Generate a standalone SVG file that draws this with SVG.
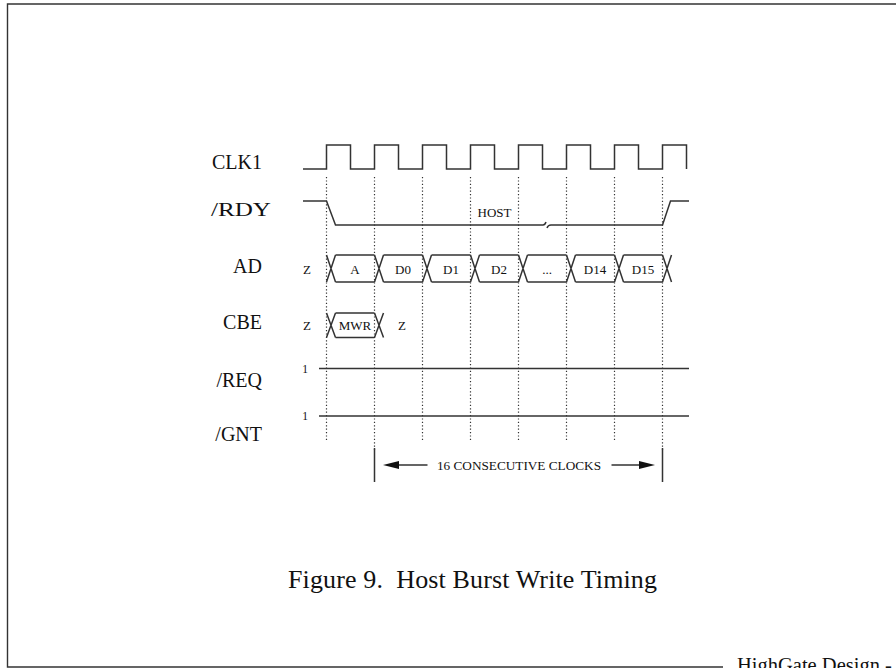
<svg xmlns="http://www.w3.org/2000/svg" width="896" height="668" viewBox="0 0 896 668">
<style>
.lbl{font-family:"Liberation Serif","Times New Roman",serif;font-size:20px;fill:#111;}
.sm{font-family:"Liberation Serif","Times New Roman",serif;font-size:13px;fill:#111;}
.sig{fill:none;stroke:#333;stroke-width:1.5;}
.dot{fill:none;stroke:#333;stroke-width:1.2;stroke-dasharray:1.2 2.2;}
.frame{fill:none;stroke:#333;stroke-width:1.4;}
</style>
<rect width="896" height="668" fill="#fff"/>
<g id="frame">
<path class="frame" d="M897,4 H7.5 V667 H723"/>
<text x="737" y="672" class="lbl" style="font-size:20.5px">HighGate Design -</text>
</g>
<g id="labels">
<text class="lbl" x="262" y="169" text-anchor="end">CLK1</text>
<text class="lbl" x="211" y="216" style="font-size:19px" textLength="60" lengthAdjust="spacingAndGlyphs">/RDY</text>
<text class="lbl" x="262" y="273" text-anchor="end">AD</text>
<text class="lbl" x="262" y="329" text-anchor="end">CBE</text>
<text class="lbl" x="262" y="387" text-anchor="end">/REQ</text>
<text class="lbl" x="262" y="441" text-anchor="end">/GNT</text>
</g>
<g id="gridlines">
<path class="dot" d="M326.5,177 V440 M374.5,177 V450 M422.5,177 V440 M470.5,177 V440 M518.5,177 V440 M566.5,177 V440 M614.5,177 V440 M662.5,177 V450"/>
</g>
<g id="clk1">
<path class="sig" d="M303,169 H326.5 V145 H350.5 V169 H374.5 V145 H398.5 V169 H422.5 V145 H446.5 V169 H470.5 V145 H494.5 V169 H518.5 V145 H542.5 V169 H566.5 V145 H590.5 V169 H614.5 V145 H638.5 V169 H662.5 V145 H686.5 V169"/>
</g>
<g id="rdy">
<path class="sig" d="M303,201 H326.5 L335.5,225 H543 q2,0 3,-3 M547,228 q1,-3 4,-3 H662.5 L670.5,201 H689"/>
<text class="sm" x="494.5" y="217" text-anchor="middle">HOST</text>
</g>
<g id="ad">
<path class="sig" d="M326.5,255 L335.5,282 M326.5,282 L335.5,255 M374.5,255 L383.5,282 M374.5,282 L383.5,255 M422.5,255 L431.5,282 M422.5,282 L431.5,255 M470.5,255 L479.5,282 M470.5,282 L479.5,255 M518.5,255 L527.5,282 M518.5,282 L527.5,255 M566.5,255 L575.5,282 M566.5,282 L575.5,255 M614.5,255 L623.5,282 M614.5,282 L623.5,255 M662.5,255 L671.5,282 M662.5,282 L671.5,255 M335.5,255 H374.5 M335.5,282 H374.5 M383.5,255 H422.5 M383.5,282 H422.5 M431.5,255 H470.5 M431.5,282 H470.5 M479.5,255 H518.5 M479.5,282 H518.5 M527.5,255 H566.5 M527.5,282 H566.5 M575.5,255 H614.5 M575.5,282 H614.5 M623.5,255 H662.5 M623.5,282 H662.5"/>
<text class="sm" x="307" y="273.5" text-anchor="middle">Z</text>
<text class="sm" x="355" y="273.5" text-anchor="middle">A</text>
<text class="sm" x="403" y="273.5" text-anchor="middle">D0</text>
<text class="sm" x="451" y="273.5" text-anchor="middle">D1</text>
<text class="sm" x="499" y="273.5" text-anchor="middle">D2</text>
<text class="sm" x="547" y="273.5" text-anchor="middle">...</text>
<text class="sm" x="595" y="273.5" text-anchor="middle">D14</text>
<text class="sm" x="643" y="273.5" text-anchor="middle">D15</text>
</g>
<g id="cbe">
<path class="sig" d="M326.5,313 L335.5,337.5 M326.5,337.5 L335.5,313 M374.5,313 L383.5,337.5 M374.5,337.5 L383.5,313 M335.5,313 H374.5 M335.5,337.5 H374.5"/>
<text class="sm" x="307" y="330" text-anchor="middle">Z</text>
<text class="sm" x="355" y="330" text-anchor="middle">MWR</text>
<text class="sm" x="402" y="330" text-anchor="middle">Z</text>
</g>
<g id="req">
<path class="sig" d="M319,368.5 H689"/>
<text class="sm" x="305" y="372.5" text-anchor="middle" style="font-size:11.5px">1</text>
</g>
<g id="gnt">
<path class="sig" d="M319,416 H689"/>
<text class="sm" x="305" y="420" text-anchor="middle" style="font-size:11.5px">1</text>
</g>
<g id="connectors">
<path class="sig" d="M374.5,448 V482 M662.5,448 V482 M399,465 H427.5 M611.5,465 H639"/>
<polygon points="383,465 399,461 399,469" fill="#111"/>
<polygon points="655,465 639,461 639,469" fill="#111"/>
<text class="sm" x="437" y="469.5" textLength="164" lengthAdjust="spacingAndGlyphs">16 CONSECUTIVE CLOCKS</text>
</g>
<g id="title">
<text class="lbl" x="288" y="588" style="font-size:26px;white-space:pre" xml:space="preserve" textLength="369">Figure 9.  Host Burst Write Timing</text>
</g>
</svg>
